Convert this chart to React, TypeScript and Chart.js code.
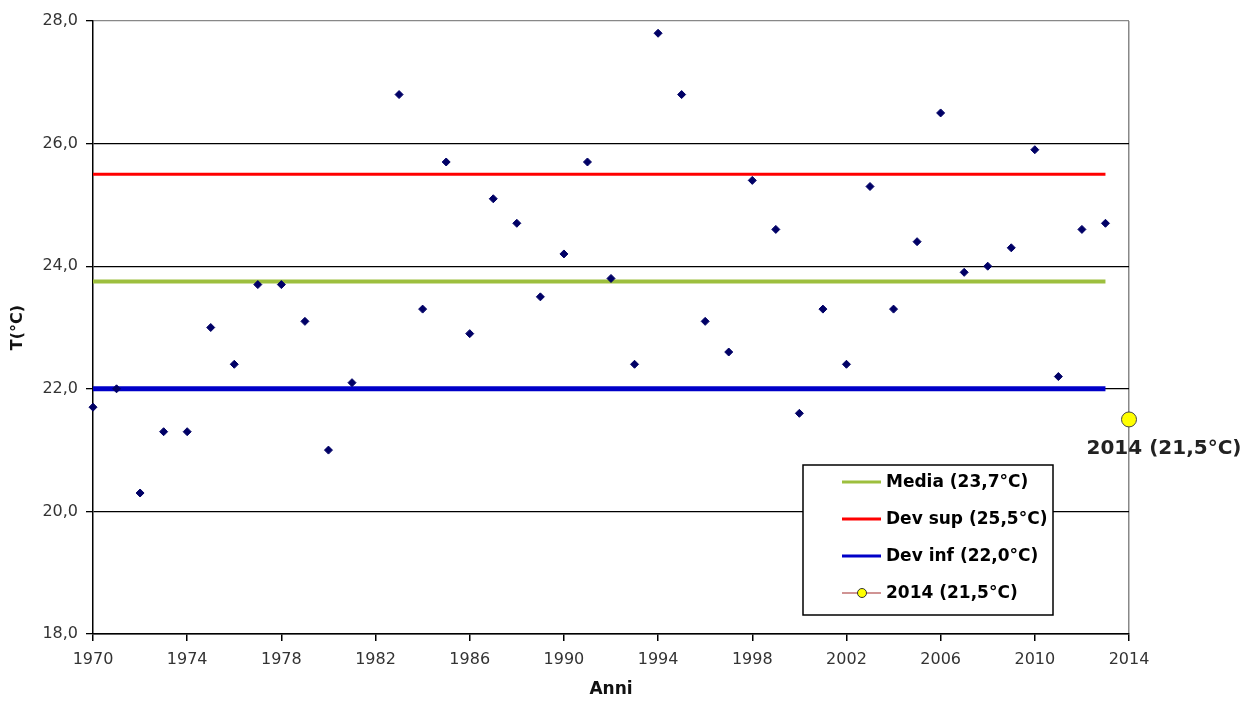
import React, { useEffect, useRef } from "react";
import { Chart, registerables } from "chart.js";

Chart.register(...registerables);

// ---- Data ----
const years: number[] = [
  1970, 1971, 1972, 1973, 1974, 1975, 1976, 1977, 1978, 1979,
  1980, 1981, 1982, 1983, 1984, 1985, 1986, 1987, 1988, 1989,
  1990, 1991, 1992, 1993, 1994, 1995, 1996, 1997, 1998, 1999,
  2000, 2001, 2002, 2003, 2004, 2005, 2006, 2007, 2008, 2009,
  2010, 2011, 2012, 2013,
];
const temps: (number | null)[] = [
  21.7, 22.0, 20.3, 21.3, 21.3, 23.0, 22.4, 23.7, 23.7, 23.1,
  21.0, 22.1, null, 26.8, 23.3, 25.7, 22.9, 25.1, 24.7, 23.5,
  24.2, 25.7, 23.8, 22.4, 27.8, 26.8, 23.1, 22.6, 25.4, 24.6,
  21.6, 23.3, 22.4, 25.3, 23.3, 24.4, 26.5, 23.9, 24.0, 24.3,
  25.9, 22.2, 24.6, 24.7,
];
const lineYears: number[] = [1970, 2013];
const mediaValue = 23.75;
const devSupValue = 25.5;
const devInfValue = 22.0;
const currentYear = 2014;
const currentValue = 21.5;

const seriesLabels: string[] = [
  "Media (23,7°C)",
  "Dev sup (25,5°C)",
  "Dev inf (22,0°C)",
  "2014 (21,5°C)",
];
const pointLabel = "2014 (21,5°C)";
const yTicks = { min: 18, max: 28, step: 2 };
const xTicks = { min: 1970, max: 2014, step: 4 };
const xTitle = "Anni";
const yTitle = "T(°C)";

const FONT = '"DejaVu Sans", sans-serif';

export default function App() {
  const ref = useRef<HTMLCanvasElement>(null);

  useEffect(() => {
    if (!ref.current) return;

    const scatterData = years
      .map((x, i) => ({ x, y: temps[i] }))
      .filter((p) => p.y !== null) as { x: number; y: number }[];

    const hLine = (v: number) => lineYears.map((x) => ({ x, y: v }));

    const legendPlugin = {
      id: "boxLegend",
      afterDraw(chart: any) {
        const ctx = chart.ctx as CanvasRenderingContext2D;
        ctx.save();
        const bx = 803, by = 465, bw = 250, bh = 150;
        ctx.fillStyle = "#ffffff";
        ctx.fillRect(bx, by, bw, bh);
        ctx.strokeStyle = "#000";
        ctx.lineWidth = 1.5;
        ctx.strokeRect(bx, by, bw, bh);
        ctx.font = `bold 17px ${FONT}`;
        ctx.textBaseline = "middle";
        ctx.textAlign = "left";
        for (let i = 0; i < 4; i++) {
          const ds = chart.data.datasets[i + 1];
          const y = by + 17 + i * 37;
          ctx.beginPath();
          ctx.strokeStyle = ds.legendColor;
          ctx.lineWidth = ds.legendWidth;
          ctx.moveTo(bx + 39, y);
          ctx.lineTo(bx + 78, y);
          ctx.stroke();
          if (i === 3) {
            ctx.beginPath();
            ctx.arc(bx + 59, y, 4.5, 0, Math.PI * 2);
            ctx.fillStyle = "#ffff00";
            ctx.fill();
            ctx.lineWidth = 1;
            ctx.strokeStyle = "#333";
            ctx.stroke();
          }
          ctx.fillStyle = "#000";
          ctx.fillText(ds.label, bx + 83, y + 1);
        }
        ctx.restore();
      },
    };

    const pointLabelPlugin = {
      id: "pointLabel",
      afterDatasetsDraw(chart: any) {
        const meta = chart.getDatasetMeta(4);
        const el = meta.data[0];
        if (!el) return;
        const ctx = chart.ctx as CanvasRenderingContext2D;
        ctx.save();
        ctx.font = `bold 20px ${FONT}`;
        ctx.fillStyle = "#222";
        ctx.textAlign = "center";
        ctx.textBaseline = "middle";
        ctx.fillText(pointLabel, el.x + 35, el.y + 29);
        ctx.restore();
      },
    };

    const chart = new Chart(ref.current, {
      type: "scatter",
      data: {
        datasets: [
          {
            label: "Dati",
            data: scatterData,
            pointStyle: "rectRot",
            pointRadius: 4,
            pointBackgroundColor: "#000066",
            pointBorderColor: "#000066",
            pointBorderWidth: 1,
            showLine: false,
            order: 0,
            clip: false,
          } as any,
          {
            label: seriesLabels[0],
            data: hLine(mediaValue),
            showLine: true,
            borderColor: "#9dbf3e",
            borderWidth: 4,
            pointRadius: 0,
            order: 3,
            legendColor: "#9dbf3e",
            legendWidth: 3,
          },
          {
            label: seriesLabels[1],
            data: hLine(devSupValue),
            showLine: true,
            borderColor: "#ff0000",
            borderWidth: 3,
            pointRadius: 0,
            order: 2,
            legendColor: "#ff0000",
            legendWidth: 3,
          },
          {
            label: seriesLabels[2],
            data: hLine(devInfValue),
            showLine: true,
            borderColor: "#0000c8",
            borderWidth: 5,
            pointRadius: 0,
            order: 1,
            legendColor: "#0000c8",
            legendWidth: 3,
          },
          {
            label: seriesLabels[3],
            data: [{ x: currentYear, y: currentValue }],
            showLine: false,
            pointStyle: "circle",
            pointRadius: 7.5,
            pointBackgroundColor: "#ffff00",
            pointBorderColor: "#444",
            pointBorderWidth: 1,
            order: 0,
            clip: false,
            legendColor: "#c07070",
            legendWidth: 1.5,
          },
        ] as any,
      },
      options: {
        responsive: false,
        animation: false,
        events: [],
        layout: { padding: { left: 0, top: 21, right: 126, bottom: 0 } },
        plugins: {
          legend: { display: false },
          tooltip: { enabled: false },
        },
        scales: {
          x: {
            type: "linear",
            min: xTicks.min,
            max: xTicks.max,
            afterFit: (s: any) => {
              s.height = 68;
            },
            ticks: {
              stepSize: xTicks.step,
              padding: 9,
              color: "#333",
              font: { family: FONT, size: 16 },
              callback: (v: any) => String(v),
              maxRotation: 0,
              autoSkip: false,
            },
            grid: {
              color: (c: any) =>
                c.tick && c.tick.value === xTicks.max ? "#888" : "rgba(0,0,0,0)",
              tickColor: "#000",
              tickLength: 7,
              lineWidth: 1.5,
            },
            border: { color: "#000", width: 1.5 },
            title: {
              display: true,
              text: xTitle,
              color: "#111",
              font: { family: FONT, size: 17, weight: "bold" },
              padding: { top: 0, bottom: 2 },
            },
          },
          y: {
            type: "linear",
            min: yTicks.min,
            max: yTicks.max,
            afterFit: (s: any) => {
              s.width = 93;
            },
            ticks: {
              stepSize: yTicks.step,
              padding: 8,
              color: "#333",
              font: { family: FONT, size: 16 },
              callback: (v: any) => Number(v).toFixed(1).replace(".", ","),
            },
            grid: {
              color: (c: any) =>
                c.tick && c.tick.value === yTicks.max ? "#888" : "#000",
              tickColor: "#000",
              tickLength: 7,
              lineWidth: 1.3,
            },
            border: { color: "#000", width: 1.5 },
            title: {
              display: true,
              text: yTitle,
              color: "#111",
              font: { family: FONT, size: 16, weight: "bold" },
              padding: { top: 8, bottom: 0 },
            },
          },
        },
      } as any,
      plugins: [pointLabelPlugin, legendPlugin],
    });

    return () => chart.destroy();
  }, []);

  return (
    <div
      style={{
        position: "absolute",
        left: 0,
        top: 0,
        width: 1255,
        height: 702,
        background: "#fff",
      }}
    >
      <canvas ref={ref} width={1255} height={702} style={{ display: "block" }} />
    </div>
  );
}
